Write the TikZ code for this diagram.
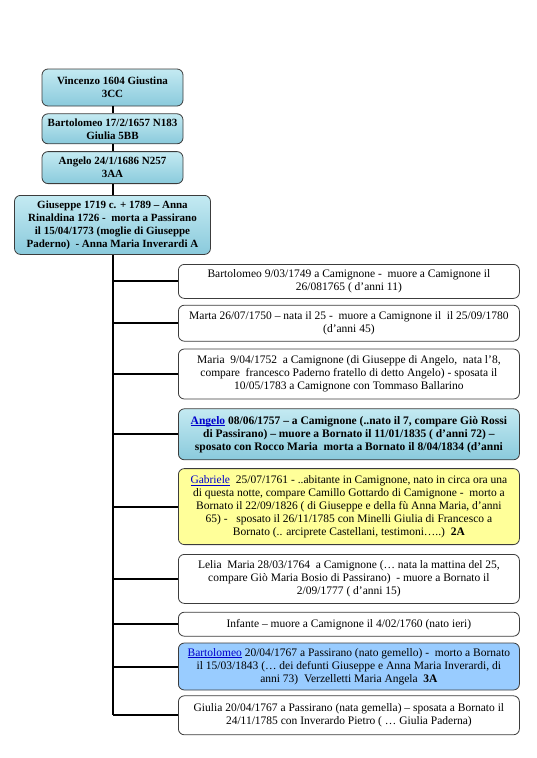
\documentclass[tikz,border=0pt]{standalone}
\usepackage{fontspec}
\setmainfont{Liberation Serif}
\usetikzlibrary{positioning}
\definecolor{waterlight}{RGB}{196, 234, 242}
\definecolor{waterdark}{RGB}{138, 202, 220}
\definecolor{lemon}{RGB}{255, 255, 153}
\definecolor{sky}{RGB}{153, 204, 255}
\definecolor{link}{RGB}{0, 0, 204}
\definecolor{rim}{RGB}{60, 60, 60}
\newcommand{\lnk}[1]{\textcolor{link}{\underline{\raisebox{0pt}[\height][0pt]{#1}}}}
\tikzstyle{elder} = [rectangle, rounded corners=6pt, draw=rim, line width=0.8pt, top color=waterlight, bottom color=waterdark, text=black, align=center, font=\fontsize{11}{13}\selectfont\bfseries, inner sep=2pt, minimum width=141pt]
\tikzstyle{kid} = [rectangle, rounded corners=6pt, draw=rim, line width=0.8pt, fill=white, text=black, align=center, font=\fontsize{11.5}{13}\selectfont, inner sep=2pt, minimum width=341pt]
\tikzstyle{kidwater} = [kid, top color=waterlight, bottom color=waterdark, font=\fontsize{11.5}{13}\selectfont\bfseries]
\tikzstyle{kidyellow} = [kid, fill=lemon]
\tikzstyle{kidblue} = [kid, fill=sky]
\tikzstyle{tline} = [draw, line width=2pt]

\begin{document}
\begin{tikzpicture}[x=1pt, y=1pt]
\useasboundingbox (0,0) rectangle (536,-758);

% ancestors =============================
\node[elder, minimum height=37pt] (vincenzo) at (112.5,-87.5) {Vincenzo 1604 Giustina\\3CC};
\node[elder, minimum height=30pt, below=7pt of vincenzo] (bartolomeo) {Bartolomeo 17/2/1657 N183\\Giulia 5BB};
\node[elder, minimum height=32pt, below=7pt of bartolomeo] (angelo) {Angelo 24/1/1686 N257\\3AA};
\node[elder, minimum width=196pt, minimum height=59pt, below=11pt of angelo] (giuseppe) {Giuseppe 1719 c. + 1789 – Anna\\Rinaldina 1726 -\ \ morta a Passirano\\il 15/04/1773 (moglie di Giuseppe\\Paderno)\ \ - Anna Maria Inverardi A};

% children =============================
\node[kid, minimum height=34pt, anchor=north west] (bart49) at (178,-264) {Bartolomeo 9/03/1749 a Camignone -\ \ muore a Camignone il\\26/081765 ( d’anni 11)};
\node[kid, minimum height=36pt, below=6pt of bart49] (marta) {Marta 26/07/1750 – nata il 25 -\ \ muore a Camignone il\ \ il 25/09/1780\\(d’anni 45)};
\node[kid, minimum height=50pt, below=7pt of marta] (maria) {Maria\ \ 9/04/1752\ \ a Camignone (di Giuseppe di Angelo,\ \ nata l’8,\\compare\ \ francesco Paderno fratello di detto Angelo) - sposata il\\10/05/1783 a Camignone con Tommaso Ballarino};
\node[kidwater, minimum height=51pt, below=9pt of maria] (angelo57) {\lnk{Angelo} 08/06/1757 – a Camignone (..nato il 7, compare Giò Rossi\\di Passirano) – muore a Bornato il 11/01/1835 ( d’anni 72) –\\sposato con Rocco Maria\ \ morta a Bornato il 8/04/1834 (d’anni};
\node[kidyellow, minimum height=76pt, below=8pt of angelo57] (gabriele) {\lnk{Gabriele}\ \ 25/07/1761 - ..abitante in Camignone, nato in circa ora una\\di questa notte, compare Camillo Gottardo di Camignone -\ \ morto a\\Bornato il 22/09/1826 ( di Giuseppe e della fù Anna Maria, d’anni\\65) -\ \ \ sposato il 26/11/1785 con Minelli Giulia di Francesco a\\Bornato (.. arciprete Castellani, testimoni…..)\ \ \textbf{2A}};
\node[kid, minimum height=49pt, below=9pt of gabriele] (lelia) {Lelia\ \ Maria 28/03/1764\ \ a Camignone (… nata la mattina del 25,\\compare Giò Maria Bosio di Passirano)\ \ - muore a Bornato il\\2/09/1777 ( d’anni 15)};
\node[kid, minimum height=24pt, below=8pt of lelia] (infante) {Infante – muore a Camignone il 4/02/1760 (nato ieri)};
\node[kidblue, minimum height=47pt, below=6pt of infante] (bart67) {\lnk{Bartolomeo} 20/04/1767 a Passirano (nato gemello) -\ \ morto a Bornato\\il 15/03/1843 (… dei defunti Giuseppe e Anna Maria Inverardi, di\\anni 73)\ \ Verzelletti Maria Angela\ \ \textbf{3A}};
\node[kid, minimum height=39pt, below=5pt of bart67] (giulia) {Giulia 20/04/1767 a Passirano (nata gemella) – sposata a Bornato il\\24/11/1785 con Inverardo Pietro ( … Giulia Paderna)};

% edges
\path[tline] (vincenzo) -- (bartolomeo);
\path[tline] (bartolomeo) -- (angelo);
\path[tline] (angelo) -- (giuseppe);
\path[tline] (giuseppe.south) -- (giuseppe.south |- giulia.west);
\foreach \k in {bart49, marta, maria, angelo57, gabriele, lelia, infante, bart67, giulia}
  \path[tline] (giuseppe.south |- \k.west) -- (\k.west);

\end{tikzpicture}
\end{document}
